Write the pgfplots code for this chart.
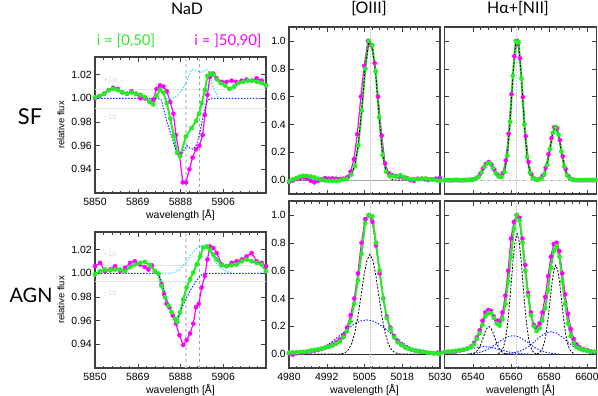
\documentclass[border=0pt]{standalone}
\usepackage{fontspec}
\setmainfont{Liberation Sans}
\newfontfamily\gill{Lato}
\usepackage{pgfplots}
\pgfplotsset{compat=1.18}

\definecolor{grn}{RGB}{40,235,40}
\definecolor{mag}{RGB}{255,0,255}
\definecolor{blu}{RGB}{25,45,255}
\definecolor{cyn}{RGB}{40,225,255}

\pgfplotsset{
  panel/.style={scale only axis, anchor=north west,
    axis line style={black!75, line width=1.5bp},
    tick style={black!75, line width=0.5bp},
    major tick length=4.5bp, minor tick length=2.5bp,
    tick align=inside, tick pos=both,
    xticklabel pos=lower, yticklabel pos=left,
    ticklabel style={font=\fontsize{10.5}{10.5}\selectfont},
    xticklabel style={inner sep=0pt, yshift=-5bp},
    yticklabel style={inner sep=0pt, xshift=-3bp},
    clip=true},
  nad/.style={panel, width=171bp, height=136bp,
    xmin=5850, xmax=5925, ymin=0.92, ymax=1.035,
    xtick={5850,5868.75,5887.5,5906.25,5925},
    xticklabels={5850,5869,5888,5906,},
    minor x tick num=4,
    ytick={0.94,0.96,0.98,1.00,1.02},
    yticklabels={0.94,0.96,0.98,1.00,1.02}},
  oiii/.style={panel, width=151bp, height=167bp,
    xmin=4980, xmax=5030, ymin=-0.1, ymax=1.1,
    xtick={4980,4992.5,5005,5017.5,5030},
    xticklabels={4980,4992,5005,5018,5030},
    minor x tick num=4,
    ytick={0,0.2,0.4,0.6,0.8,1.0},
    yticklabels={0.0,0.2,0.4,0.6,0.8,1.0}},
  hal/.style={panel, width=152bp, height=167bp,
    xmin=6525, xmax=6605, ymin=-0.1, ymax=1.1,
    xtick={6540,6560,6580,6600},
    xticklabels={6540,6560,6580,6600},
    minor x tick num=4,
    ytick={0,0.2,0.4,0.6,0.8,1.0}, yticklabels={}},
  mg/.style={mag, line width=1.2bp, mark=*, mark size=2.1bp,
    mark options={solid, fill=mag, draw=mag, line width=0.3bp}},
  gr/.style={grn, line width=2bp, mark=*, mark size=2.2bp,
    mark options={solid, fill=grn, draw=grn, line width=0.3bp}},
  bl/.style={blu, line width=1bp, dash pattern=on 1.5bp off 1.5bp, no markers},
  cy/.style={cyn, line width=1bp, dash pattern=on 1.5bp off 1.5bp, no markers},
  bk/.style={black, line width=0.8bp, dash pattern=on 2bp off 1.5bp, no markers},
}

\begin{document}
\begin{tikzpicture}
\useasboundingbox (0,0) rectangle (598bp,-396bp);

% ---------------- NaD, SF
\begin{axis}[nad, at={(95bp,-57bp)}]
\addplot[gray!20, line width=0.7bp] coordinates {(5850,1.0075) (5925,1.0075)};
\addplot[gray!20, line width=0.7bp] coordinates {(5850,0.9917) (5925,0.9917)};
\addplot[gray!35, line width=1.2bp, dashed] coordinates {(5889.95,0.92) (5889.95,1.035)};
\addplot[gray!70, line width=0.5bp, dashed] coordinates {(5895.92,0.92) (5895.92,1.035)};
\node[gray!30, font=\fontsize{8}{8}\selectfont] at (axis cs:5856.7,1.0157) {+1σ};
\node[gray!30, font=\fontsize{8}{8}\selectfont] at (axis cs:5856.7,0.9844) {−1σ};
\addplot[mg] coordinates {
(5850,1.000) (5852,1.002) (5854,1.004) (5856,1.007) (5858,1.009) (5860,1.008)
(5862,1.005) (5864,1.004) (5866,1.006) (5868,1.004) (5870,1.000) (5872,1.000)
(5874,0.997) (5875.5,0.999) (5877,1.008) (5878.5,1.011) (5880,1.010) (5881.5,1.006)
(5883,0.997) (5884.4,0.987) (5885.5,0.969) (5887,0.953) (5888.5,0.929) (5889.9,0.929)
(5891.4,0.940) (5892.8,0.950) (5894.3,0.957) (5895.8,0.960) (5897.2,0.969) (5898.2,0.986)
(5899.3,1.003) (5900.4,1.018) (5901.9,1.021) (5903.4,1.017) (5905.6,1.014) (5907.7,1.014)
(5909.9,1.015) (5912,1.014) (5914.3,1.015) (5916.5,1.016) (5918.7,1.015) (5920.9,1.017)
(5923.1,1.015) (5925,1.011)};
\addplot[gr] coordinates {
(5850,1.001) (5852,1.002) (5854,1.004) (5856,1.007) (5858,1.008) (5860,1.007)
(5862,1.005) (5864,1.004) (5866,1.005) (5868,1.004) (5870,1.003) (5872,1.001)
(5874,0.997) (5875.5,0.995) (5877,1.002) (5878.5,1.007) (5880,1.005) (5881.5,0.996)
(5883,0.983) (5884.6,0.968) (5886,0.954) (5887.3,0.951) (5889.9,0.968) (5892.4,0.975)
(5894.3,0.981) (5895.6,0.987) (5896.8,0.996) (5898.2,1.007) (5899.3,1.019) (5900.6,1.021)
(5902,1.020) (5903.5,1.016) (5905,1.013) (5907,1.011) (5909,1.008) (5911,1.010)
(5913,1.013) (5915,1.014) (5917,1.015) (5919,1.015) (5921,1.014) (5923,1.013) (5925,1.011)};
\addplot[cy] coordinates {
(5880,1.0) (5882.9,1.0) (5885,1.0008) (5887,1.004) (5888.7,1.009) (5890.2,1.0139)
(5891.3,1.020) (5892.4,1.0244) (5893.5,1.0245) (5894.6,1.0236) (5895.7,1.0225) (5896.8,1.0222)
(5898,1.0235) (5899,1.0244) (5900.1,1.022) (5901.2,1.0139) (5902.6,1.006) (5904.1,1.0006) (5906,1.0)};
\addplot[bl] coordinates {
(5850,1.0) (5877.5,1.0) (5879.2,0.9986) (5881.4,0.981) (5883.6,0.968) (5885.8,0.954)
(5887.3,0.950) (5888.7,0.955) (5890.2,0.960) (5891.7,0.958) (5893.1,0.957) (5894.6,0.961)
(5896.1,0.972) (5897.5,0.986) (5899.0,0.997) (5900.4,1.0) (5925,1.0)};
\end{axis}

% ---------------- NaD, AGN
\begin{axis}[nad, at={(95bp,-232bp)}]
\addplot[gray!20, line width=0.7bp] coordinates {(5850,1.0069) (5925,1.0069)};
\addplot[gray!20, line width=0.7bp] coordinates {(5850,0.9936) (5925,0.9936)};
\addplot[gray!35, line width=1.2bp, dashed] coordinates {(5889.95,0.92) (5889.95,1.035)};
\addplot[gray!70, line width=0.5bp, dashed] coordinates {(5895.92,0.92) (5895.92,1.035)};
\node[gray!30, font=\fontsize{8}{8}\selectfont] at (axis cs:5856.7,1.0167) {+1σ};
\node[gray!30, font=\fontsize{8}{8}\selectfont] at (axis cs:5856.7,0.9840) {−1σ};
\addplot[mg] coordinates {
(5850,1.0061) (5852.2,1.0089) (5854.4,1.0019) (5856.6,1.0033) (5858.8,1.0061) (5861.0,1.0019)
(5863.2,1.0047) (5865.4,1.0089) (5867.5,1.0103) (5869.7,1.0075) (5871.9,1.0053) (5873.4,1.0033)
(5874.9,1.0069) (5876.3,1.0019) (5877.8,0.9997) (5879.2,0.9908) (5880.3,0.9825) (5881.4,0.9742)
(5882.6,0.9714) (5884.1,0.9644) (5885.5,0.9575) (5887.0,0.9478) (5888.7,0.9394) (5890.2,0.9436)
(5891.7,0.9492) (5893.1,0.9575) (5894.3,0.9714) (5895.5,0.9742) (5896.8,0.9881) (5898.2,0.9978)
(5899.3,1.0117) (5900.4,1.0228) (5901.9,1.0214) (5903.4,1.0172) (5905.6,1.0075) (5907.7,1.0061)
(5909.9,1.0089) (5912.1,1.0103) (5914.3,1.0117) (5916.5,1.0144) (5918.7,1.0172) (5920.9,1.0103)
(5923.1,1.0089) (5925,1.0061)};
\addplot[gr] coordinates {
(5850,0.9992) (5852.2,1.0019) (5854.4,1.0033) (5856.6,1.0025) (5858.8,1.0033) (5861.0,1.0033)
(5863.2,1.0019) (5865.4,1.0053) (5867.5,1.0075) (5869.7,1.0089) (5871.9,1.0097) (5874.1,1.0069)
(5876.3,1.0019) (5877.8,0.9997) (5879.2,0.9894) (5880.7,0.9797) (5882.2,0.9728) (5883.6,0.9672)
(5885.1,0.9617) (5886.1,0.9589) (5887.3,0.9670) (5888.7,0.9780) (5890.2,0.9881) (5891.7,0.9950)
(5893.1,1.0006) (5894.6,1.0075) (5896.1,1.0144) (5897.5,1.0219) (5899.0,1.0228) (5900.4,1.0200)
(5901.9,1.0158) (5903.4,1.0117) (5905.6,1.0069) (5907.7,1.0061) (5909.9,1.0069) (5912.1,1.0075)
(5914.3,1.0103) (5916.5,1.0117) (5918.7,1.0103) (5920.9,1.0089) (5923.1,1.0075) (5925,1.0019)};
\addplot[cy] coordinates {
(5878,1.0) (5882,1.0) (5884.4,1.0006) (5887.3,1.0033) (5890.2,1.0103) (5893.1,1.0186)
(5896.1,1.0236) (5898.2,1.0228) (5900.4,1.0180) (5902.6,1.0103) (5904.8,1.0047) (5907.7,1.0019) (5910,1.0)};
\addplot[bl] coordinates {
(5850,1.0) (5877.5,1.0) (5879.2,0.9936) (5881.4,0.9783) (5883.6,0.9672) (5885.5,0.9603)
(5887.3,0.9670) (5889.5,0.9769) (5891.7,0.9853) (5893.9,0.9922) (5896.1,0.9978) (5897.5,1.0) (5925,1.0)};
\end{axis}

% ---------------- [OIII], SF
\begin{axis}[oiii, at={(289bp,-27bp)}, xticklabels={}]
\addplot[gray!70, line width=0.8bp] coordinates {(4980,0) (5030,0)};
\addplot[gray!40, line width=0.5bp, densely dotted] coordinates {(5006.84,-0.1) (5006.84,1.1)};
\addplot[mg] coordinates {
(4980.0,-0.015) (4981.2,-0.005) (4982.4,0.008) (4983.6,0.015) (4984.8,0.020) (4986.0,0.012)
(4987.2,-0.005) (4988.4,-0.017) (4989.6,-0.005) (4990.8,0.005) (4992.0,0.015) (4993.2,0.010)
(4994.4,0.012) (4995.6,0.010) (4996.8,0.008) (4998.0,0.010) (4999.2,0.020) (5000.4,0.06)
(5001.5,0.15) (5002.6,0.33) (5003.8,0.60) (5004.9,0.82) (5006.1,1.00) (5007.2,0.97)
(5008.4,0.84) (5009.5,0.60) (5010.7,0.32) (5011.8,0.12) (5013.0,0.05) (5014.2,0.035)
(5015.4,0.030) (5016.5,0.025) (5017.7,0.020) (5019.0,0.015) (5020.2,0.000) (5021.4,-0.005)
(5022.6,0.010) (5023.8,0.010) (5025.0,0.005) (5026.2,0.000) (5027.4,0.005) (5028.6,0.010) (5030.0,0.015)};
\addplot[gr] coordinates {
(4980.0,-0.010) (4981.2,0.005) (4982.4,0.015) (4983.6,0.026) (4984.8,0.031) (4986.0,0.030)
(4987.2,0.025) (4988.4,0.020) (4989.6,0.010) (4990.8,0.000) (4992.0,-0.004) (4993.2,-0.005)
(4994.4,-0.006) (4995.6,-0.005) (4996.8,-0.002) (4998.0,0.004) (4999.2,0.008) (5000.65,0.04)
(5001.8,0.10) (5002.95,0.25) (5004.1,0.50) (5005.25,0.80) (5006.4,1.00) (5007.55,0.97)
(5008.7,0.78) (5009.85,0.45) (5011.0,0.18) (5012.15,0.06) (5013.3,0.03) (5014.5,0.028)
(5015.7,0.025) (5016.9,0.035) (5018.1,0.020) (5019.3,0.010) (5020.5,0.007) (5021.7,0.006)
(5022.9,0.007) (5024.1,0.010) (5025.3,0.012) (5026.5,0.006) (5027.7,0.004) (5028.9,-0.002) (5030.0,-0.005)};
\addplot[bk] coordinates {
(4980,0) (4998.5,0) (4999.7,0.008) (5000.65,0.04) (5001.8,0.11) (5002.95,0.26) (5004.1,0.51)
(5005.25,0.81) (5006.4,0.99) (5007.55,0.96) (5008.7,0.77) (5009.85,0.45) (5011.0,0.18)
(5012.15,0.06) (5013.3,0.015) (5014.5,0) (5030,0)};
\end{axis}

% ---------------- [OIII], AGN
\begin{axis}[oiii, at={(289bp,-201bp)}]
\addplot[black!80, line width=0.6bp] coordinates {(4980,0) (5030,0)};
\addplot[gray!40, line width=0.5bp, densely dotted] coordinates {(5006.84,-0.1) (5006.84,1.1)};
\addplot[mg] coordinates {
(4980.0,0.005) (4981.2,-0.005) (4982.4,0.005) (4983.6,0.010) (4984.8,0.012) (4986.0,0.015)
(4987.2,0.020) (4988.4,0.025) (4989.6,0.030) (4990.8,0.036) (4992.0,0.045) (4993.2,0.055)
(4994.4,0.070) (4995.6,0.085) (4996.8,0.105) (4998.0,0.135) (4999.2,0.190) (5000.4,0.28)
(5001.6,0.40) (5002.8,0.58) (5004.0,0.80) (5005.2,0.97) (5006.4,1.00) (5007.6,0.95)
(5008.8,0.78) (5010.0,0.58) (5011.2,0.40) (5012.4,0.27) (5013.6,0.19) (5014.8,0.13)
(5016.0,0.095) (5017.2,0.070) (5018.4,0.050) (5019.6,0.040) (5020.8,0.030) (5022.0,0.025)
(5023.2,0.022) (5024.4,0.015) (5025.6,0.012) (5026.8,0.008) (5028.0,0.005) (5029.2,0.010) (5030.0,0.008)};
\addplot[gr] coordinates {
(4980.0,0.010) (4981.2,0.012) (4982.4,0.013) (4983.6,0.014) (4984.8,0.016) (4986.0,0.020)
(4987.2,0.025) (4988.4,0.030) (4989.6,0.035) (4990.8,0.040) (4992.0,0.046) (4993.2,0.053)
(4994.4,0.062) (4995.6,0.075) (4996.8,0.090) (4998.0,0.120) (4999.2,0.165) (5000.4,0.235)
(5001.6,0.36) (5002.8,0.53) (5004.0,0.72) (5005.2,0.94) (5006.4,1.00) (5007.6,0.99)
(5008.8,0.80) (5010.0,0.60) (5011.2,0.40) (5012.4,0.26) (5013.6,0.18) (5014.8,0.12)
(5016.0,0.085) (5017.2,0.065) (5018.4,0.048) (5019.6,0.038) (5020.8,0.030) (5022.0,0.024)
(5023.2,0.020) (5024.4,0.017) (5025.6,0.012) (5026.8,0.008) (5028.0,0.006) (5029.2,0.004) (5030.0,0.002)};
\addplot[bl] coordinates {
(4980,0.002) (4981.7,0.003) (4983.7,0.0056) (4985.7,0.011) (4987.7,0.020) (4989.7,0.033)
(4991.7,0.053) (4993.7,0.080) (4995.7,0.113) (4997.7,0.149) (4999.7,0.186) (5001.7,0.217)
(5003.7,0.238) (5005.7,0.246) (5007.7,0.238) (5009.7,0.217) (5011.7,0.186) (5013.7,0.149)
(5015.7,0.113) (5017.7,0.080) (5019.7,0.053) (5021.7,0.033) (5023.7,0.020) (5025.7,0.011)
(5027.7,0.0056) (5029.7,0.003) (5030,0.003)};
\addplot[bk] coordinates {
(4980,0) (4996.8,0.001) (4997.8,0.005) (4998.8,0.014) (4999.8,0.035) (5000.8,0.078)
(5001.8,0.154) (5002.8,0.267) (5003.8,0.411) (5004.8,0.560) (5005.8,0.673) (5006.8,0.716)
(5007.8,0.673) (5008.8,0.560) (5009.8,0.411) (5010.8,0.267) (5011.8,0.154) (5012.8,0.078)
(5013.8,0.035) (5014.8,0.014) (5015.8,0.005) (5016.8,0.001) (5030,0)};
\end{axis}

% ---------------- Halpha+[NII], SF
\begin{axis}[hal, at={(444.5bp,-27bp)}, xticklabels={}]
\addplot[gray!60, line width=0.8bp, dash pattern=on 3bp off 1.5bp on 1bp off 1.5bp] coordinates {(6525,0) (6605,0)};
\addplot[gray!40, line width=0.5bp, densely dotted] coordinates {(6562.8,-0.1) (6562.8,1.1)};
\addplot[mg] coordinates {
(6525.75,0) (6527.25,0) (6528.75,0) (6530.25,0) (6531.75,0) (6533.25,0) (6534.75,0)
(6536.25,0) (6537.75,0) (6539.25,0.002) (6540.75,0.007) (6542.25,0.019) (6543.75,0.045)
(6545.25,0.083) (6546.75,0.117) (6548.25,0.130) (6549.75,0.112) (6551.25,0.075) (6552.75,0.041)
(6554.25,0.028) (6555.75,0.051) (6557.25,0.141) (6558.75,0.333) (6560.25,0.617) (6561.75,0.890)
(6563.25,1.000) (6564.75,0.875) (6566.25,0.596) (6567.75,0.316) (6569.25,0.131) (6570.75,0.042)
(6572.25,0.011) (6573.75,0.002) (6575.25,0.010) (6576.75,0.033) (6578.25,0.089) (6579.75,0.186)
(6581.25,0.302) (6582.75,0.381) (6584.25,0.375) (6585.75,0.287) (6587.25,0.171) (6588.75,0.080)
(6590.25,0.029) (6591.75,0.008) (6593.25,0.002) (6594.75,0) (6596.25,0) (6597.75,0)
(6599.25,0) (6600.75,0) (6602.25,0) (6603.75,0)};
\addplot[gr] coordinates {
(6525,0) (6526.5,0) (6528,-0.002) (6529.5,0) (6531,0.001) (6532.5,0) (6534,-0.002)
(6535.5,0) (6537,0.001) (6538.5,0.002) (6540,0.004) (6541.5,0.010) (6543,0.025)
(6544.5,0.056) (6546,0.096) (6547.5,0.122) (6549,0.120) (6550.5,0.088) (6552,0.050)
(6553.5,0.025) (6555,0.022) (6556.5,0.058) (6558,0.175) (6559.5,0.420) (6561,0.750)
(6562.5,1.000) (6564,0.990) (6565.5,0.730) (6567,0.400) (6568.5,0.165) (6570,0.052)
(6571.5,0.014) (6573,0.004) (6574.5,0.003) (6576,0.011) (6577.5,0.040) (6579,0.108)
(6580.5,0.222) (6582,0.340) (6583.5,0.380) (6585,0.327) (6586.5,0.206) (6588,0.097)
(6589.5,0.034) (6591,0.010) (6592.5,0.003) (6594,0) (6595.5,0) (6597,-0.001)
(6598.5,0) (6600,0) (6601.5,0) (6603,0) (6604.5,0)};
\addplot[bk] coordinates {
(6525,0) (6538.5,0) (6540,0.002) (6541.5,0.007) (6543,0.023) (6544.5,0.055) (6546,0.096)
(6547.5,0.126) (6549,0.122) (6550.5,0.088) (6552,0.047) (6553.5,0.021) (6555,0.018)
(6556.5,0.054) (6558,0.173) (6559.5,0.418) (6561,0.750) (6562.5,1.000) (6564,0.990)
(6565.5,0.728) (6567,0.398) (6568.5,0.161) (6570,0.049) (6571.5,0.011) (6573,0.002)
(6574.5,0.002) (6576,0.010) (6577.5,0.039) (6579,0.107) (6580.5,0.222) (6582,0.340)
(6583.5,0.387) (6585,0.327) (6586.5,0.206) (6588,0.096) (6589.5,0.033) (6591,0.008)
(6592.5,0.002) (6594,0) (6605,0)};
\end{axis}

% ---------------- Halpha+[NII], AGN
\begin{axis}[hal, at={(444.5bp,-201bp)}]
\addplot[black!80, line width=0.6bp] coordinates {(6525,0) (6605,0)};
\addplot[gray!40, line width=0.5bp, densely dotted] coordinates {(6562.8,-0.1) (6562.8,1.1)};
\addplot[mg] coordinates {
(6525,0.012) (6527,0.015) (6529,0.018) (6531,0.020) (6533,0.026) (6535,0.030) (6537,0.040)
(6539,0.055) (6540.5,0.08) (6542,0.12) (6543.5,0.17) (6545,0.24) (6546.5,0.30) (6548,0.318)
(6549.5,0.31) (6551,0.27) (6552.5,0.24) (6554,0.24) (6555.5,0.30) (6557,0.42) (6558.5,0.60)
(6560,0.83) (6561.5,0.95) (6563,1.00) (6564.5,0.98) (6566,0.83) (6567.5,0.64) (6569,0.44)
(6570.5,0.30) (6572,0.21) (6573.5,0.19) (6575,0.22) (6576.5,0.30) (6578,0.41) (6579.5,0.56)
(6581,0.70) (6582.5,0.79) (6584,0.80) (6585.5,0.74) (6587,0.58) (6588.5,0.43) (6590,0.29)
(6591.5,0.18) (6593,0.11) (6594.5,0.07) (6596,0.05) (6598,0.035) (6600,0.030) (6602,0.020) (6604,0.015)};
\addplot[gr] coordinates {
(6525,0.017) (6527,0.018) (6529,0.020) (6531,0.024) (6533,0.028) (6535,0.032) (6537,0.040)
(6539,0.050) (6540.5,0.07) (6542,0.11) (6543.5,0.15) (6545,0.21) (6546.5,0.27) (6548,0.294)
(6549.5,0.294) (6551,0.26) (6552.5,0.22) (6554,0.205) (6555.5,0.25) (6557,0.36) (6558.5,0.52)
(6560,0.70) (6561.5,0.90) (6563,1.00) (6564.5,0.96) (6566,0.80) (6567.5,0.60) (6569,0.42)
(6570.5,0.28) (6572,0.20) (6573.5,0.166) (6575,0.185) (6576.5,0.24) (6578,0.33) (6579.5,0.46)
(6581,0.62) (6582.5,0.74) (6584,0.776) (6585.5,0.70) (6587,0.52) (6588.5,0.36) (6590,0.22)
(6591.5,0.13) (6593,0.08) (6594.5,0.05) (6596,0.04) (6598,0.030) (6600,0.025) (6602,0.020) (6604,0.017)};
% broad components
\addplot[bl] coordinates {
(6525,0.002) (6528,0.004) (6531,0.009) (6534,0.018) (6537,0.029) (6540,0.041) (6543,0.050)
(6546,0.054) (6549,0.050) (6552,0.041) (6555,0.029) (6558,0.018) (6561,0.009) (6564,0.004)
(6567,0.002) (6570,0.0006)};
\addplot[bl] coordinates {
(6537,0.0015) (6540,0.004) (6543,0.011) (6546,0.023) (6549,0.043) (6552,0.071) (6555,0.100)
(6558,0.124) (6561,0.133) (6564,0.124) (6567,0.100) (6570,0.071) (6573,0.043) (6576,0.023)
(6579,0.011) (6582,0.004) (6585,0.0015)};
\addplot[bl] coordinates {
(6557,0.002) (6560,0.005) (6563,0.013) (6566,0.028) (6569,0.052) (6572,0.085) (6575,0.122)
(6578,0.150) (6581,0.161) (6584,0.150) (6587,0.122) (6590,0.085) (6593,0.052) (6596,0.028)
(6599,0.013) (6602,0.005) (6605,0.002)};
% narrow components
\addplot[bk] coordinates {
(6538.4,0.0008) (6539.4,0.002) (6540.4,0.0057) (6541.4,0.013) (6542.4,0.027) (6543.4,0.049)
(6544.4,0.081) (6545.4,0.120) (6546.4,0.159) (6547.4,0.187) (6548.4,0.198) (6549.4,0.187)
(6550.4,0.159) (6551.4,0.120) (6552.4,0.081) (6553.4,0.049) (6554.4,0.027) (6555.4,0.013)
(6556.4,0.0057) (6557.4,0.002) (6558.4,0.0008)};
\addplot[bk] coordinates {
(6553.2,0.0035) (6554.2,0.0095) (6555.2,0.025) (6556.2,0.057) (6557.2,0.117) (6558.2,0.215)
(6559.2,0.356) (6560.2,0.525) (6561.2,0.693) (6562.2,0.818) (6563.2,0.865) (6564.2,0.818)
(6565.2,0.693) (6566.2,0.525) (6567.2,0.356) (6568.2,0.215) (6569.2,0.117) (6570.2,0.057)
(6571.2,0.025) (6572.2,0.0095) (6573.2,0.0035)};
\addplot[bk] coordinates {
(6573.6,0.0026) (6574.6,0.007) (6575.6,0.019) (6576.6,0.042) (6577.6,0.086) (6578.6,0.159)
(6579.6,0.263) (6580.6,0.388) (6581.6,0.512) (6582.6,0.605) (6583.6,0.639) (6584.6,0.605)
(6585.6,0.512) (6586.6,0.388) (6587.6,0.263) (6588.6,0.159) (6589.6,0.086) (6590.6,0.042)
(6591.6,0.019) (6592.6,0.007) (6593.6,0.0026)};
\end{axis}

% ---------------- labels
\node[font=\gill\fontsize{16}{16}\selectfont] at (187bp,-9bp) {NaD};
\node[font=\gill\fontsize{16}{16}\selectfont] at (369bp,-9bp) {[OIII]};
\node[font=\gill\fontsize{16}{16}\selectfont] at (518bp,-9bp) {Hα+[NII]};
\node[font=\gill\fontsize{15}{15}\selectfont, text=grn] at (126bp,-41bp) {i = [0,50]};
\node[font=\gill\fontsize{15}{15}\selectfont, text=mag] at (228bp,-41bp) {i = ]50,90]};
\node[font=\gill\fontsize{22}{22}\selectfont] at (30bp,-117bp) {SF};
\node[font=\gill\fontsize{20}{20}\selectfont] at (31bp,-295bp) {AGN};
\node[rotate=90, font=\fontsize{9.5}{10}\selectfont] at (61bp,-125bp) {relative flux};
\node[rotate=90, font=\fontsize{9.5}{10}\selectfont] at (61bp,-300bp) {relative flux};
\node[font=\fontsize{10.5}{10.5}\selectfont] at (180.5bp,-215bp) {wavelength [Å]};
\node[font=\fontsize{10.5}{10.5}\selectfont] at (180.5bp,-390bp) {wavelength [Å]};
\node[font=\fontsize{10.5}{10.5}\selectfont] at (364.5bp,-390bp) {wavelength [Å]};
\node[font=\fontsize{10.5}{10.5}\selectfont] at (520.5bp,-390bp) {wavelength [Å]};
\end{tikzpicture}
\end{document}
